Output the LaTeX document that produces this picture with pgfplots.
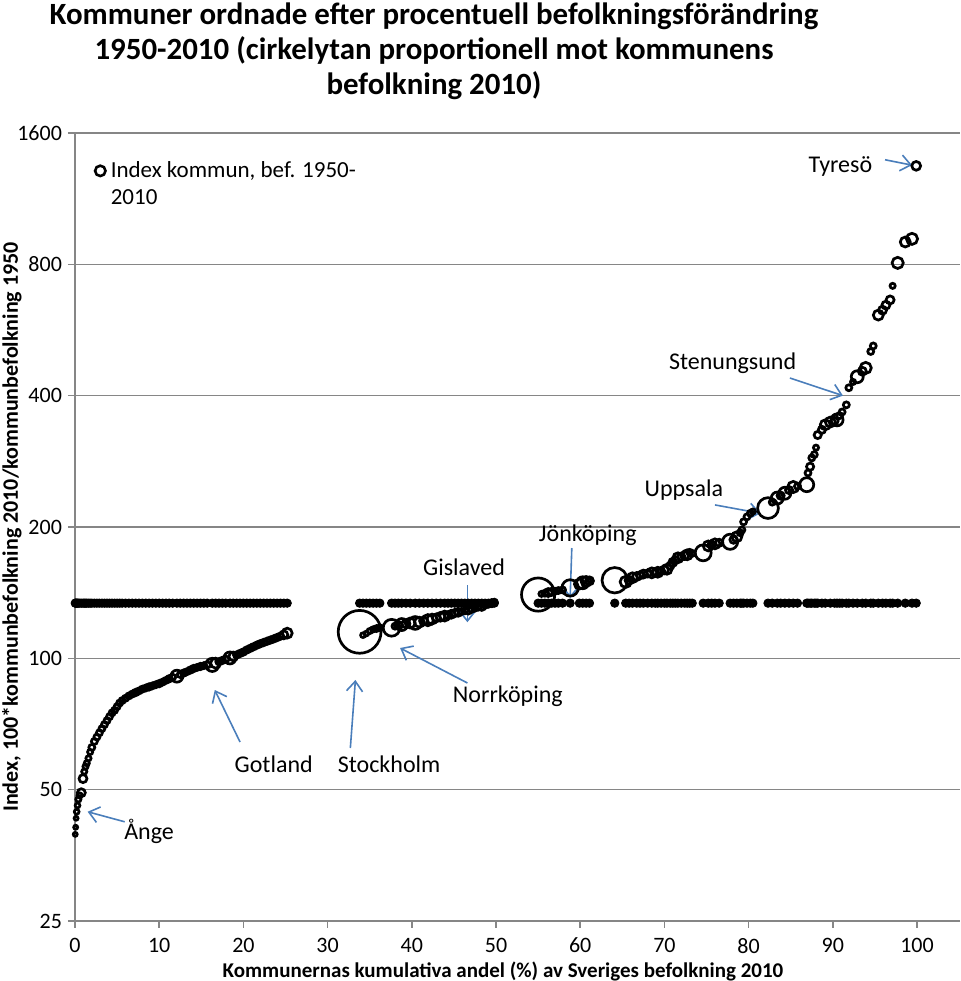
\documentclass[border=0pt]{standalone}
\usepackage{fontspec}
\setmainfont{Carlito}
\usepackage{pgfplots}
\usepackage{pgfplotstable}
\pgfplotsset{compat=1.18}
\usetikzlibrary{calc,arrows.meta}

\definecolor{axgray}{HTML}{868686}
\definecolor{arrblue}{HTML}{4A7EBB}

% x = kumulativ andel (%), y = index 2010/1950, r = cirkelradie (pt), s = rikets index
\pgfplotstableread{
x y r s
0.03 39.5 1.0 133.8
0.08 41.0 1.0 133.8
0.13 43.0 1.0 133.8
0.20 44.5 1.2 133.8
0.30 46.0 1.2 133.8
0.40 47.5 1.3 133.8
0.55 48.5 1.3 133.8
0.75 49.2 2.0 133.8
0.95 53.0 2.0 133.8
1.10 55.0 1.3 133.8
1.25 56.5 1.3 133.8
1.40 57.5 1.3 133.8
1.60 59.0 1.3 133.8
1.80 61.0 1.3 133.8
2.00 62.5 1.5 133.8
2.30 64.5 1.5 133.8
2.60 66.0 1.5 133.8
2.90 67.5 1.5 133.8
3.20 69.0 1.5 133.8
3.50 70.5 1.5 133.8
3.80 72.0 1.5 133.8
4.10 73.5 1.5 133.8
4.40 75.0 1.5 133.8
4.70 76.0 1.5 133.8
5.00 77.5 1.5 133.8
5.30 79.0 1.5 133.8
5.60 80.0 1.5 133.8
6.00 81.0 1.5 133.8
6.40 82.0 1.5 133.8
6.80 82.8 1.5 133.8
7.20 83.5 1.6 133.8
7.60 84.2 1.5 133.8
8.00 85.0 1.5 133.8
8.40 85.5 1.5 133.8
8.80 86.0 1.6 133.8
9.20 86.5 1.5 133.8
9.60 87.0 1.5 133.8
10.00 87.5 1.6 133.8
10.40 88.2 1.5 133.8
10.80 89.0 1.5 133.8
11.20 89.8 1.6 133.8
11.60 90.5 1.5 133.8
12.10 91.0 3.0 133.8
12.50 91.8 1.5 133.8
12.90 92.5 1.6 133.8
13.30 93.2 1.5 133.8
13.70 94.0 1.6 133.8
14.10 94.8 1.6 133.8
14.50 95.3 1.5 133.8
14.90 95.8 1.6 133.8
15.30 96.2 1.5 133.8
15.70 96.6 1.6 133.8
16.30 96.6 3.3 133.8
16.70 97.5 2.5 133.8
17.10 98.2 1.6 133.8
17.50 98.9 1.6 133.8
17.90 99.5 1.6 133.8
18.40 100.2 3.0 133.8
18.80 101.0 2.2 133.8
19.20 101.8 1.6 133.8
19.60 102.6 1.6 133.8
20.00 103.4 1.6 133.8
20.40 104.5 1.6 133.8
20.80 105.4 1.6 133.8
21.20 106.3 1.6 133.8
21.60 107.2 1.6 133.8
22.00 108.0 1.6 133.8
22.40 108.7 1.6 133.8
22.80 109.4 1.6 133.8
23.20 110.1 1.6 133.8
23.60 110.8 1.6 133.8
24.00 111.6 1.6 133.8
24.40 112.4 1.6 133.8
24.80 113.2 2.0 133.8
25.20 114.2 2.5 133.8
33.80 115.0 10.7 133.8
34.20 113.0 1.2 133.8
34.60 114.0 1.2 133.8
35.00 115.5 1.3 133.8
35.40 116.5 1.3 133.8
35.80 117.0 1.5 133.8
36.20 117.5 1.5 133.8
37.60 117.5 4.2 133.8
38.00 118.5 1.5 133.8
38.40 119.0 2.0 133.8
38.80 119.5 3.0 133.8
39.30 120.0 2.0 133.8
39.80 120.5 2.5 133.8
40.40 120.5 3.2 133.8
40.90 121.0 2.5 133.8
41.40 121.8 2.0 133.8
41.90 122.3 2.8 133.8
42.40 123.0 2.5 133.8
42.90 123.8 2.0 133.8
43.40 124.5 2.2 133.8
43.90 125.0 2.5 133.8
44.30 125.5 1.8 133.8
44.70 126.2 2.0 133.8
45.10 127.0 1.8 133.8
45.50 127.5 2.0 133.8
45.90 128.0 1.5 133.8
46.30 128.5 1.5 133.8
46.70 129.0 2.0 133.8
47.10 129.5 1.5 133.8
47.50 130.3 1.5 133.8
47.90 131.0 1.5 133.8
48.30 131.5 2.0 133.8
48.70 132.3 1.5 133.8
49.10 133.0 1.5 133.8
49.50 133.8 1.8 133.8
49.80 134.5 1.5 133.8
55.00 140.0 8.3 133.8
55.40 140.5 1.3 133.8
55.80 141.0 1.5 133.8
56.20 141.5 2.0 133.8
56.60 142.0 1.8 133.8
57.00 142.5 1.5 133.8
57.40 143.0 1.5 133.8
57.90 143.5 1.5 133.8
58.80 145.0 4.1 133.8
59.90 148.0 2.5 133.8
60.30 149.0 3.0 133.8
60.70 150.0 2.5 133.8
61.10 150.5 2.0 133.8
64.10 151.0 6.35 133.8
65.40 149.7 2.8 133.8
65.80 151.0 2.0 133.8
66.20 153.0 2.5 133.8
66.70 154.0 2.0 133.8
67.10 155.0 1.8 133.8
67.50 156.0 2.0 133.8
68.00 156.5 1.8 133.8
68.50 157.0 2.5 133.8
68.90 157.0 1.8 133.8
69.20 157.5 2.5 133.8
69.60 158.5 1.8 133.8
70.00 159.5 2.0 133.8
70.30 160.0 2.5 133.8
70.70 163.0 1.8 133.8
71.00 166.0 2.0 133.8
71.30 168.0 1.8 133.8
71.60 170.0 2.5 133.8
72.00 171.0 1.8 133.8
72.40 172.0 2.0 133.8
72.70 172.7 2.5 133.8
73.00 175.0 1.5 133.8
73.30 174.0 1.5 133.8
74.60 174.5 4.0 133.8
75.20 181.0 2.5 133.8
75.60 182.0 1.8 133.8
76.00 183.0 2.5 133.8
76.50 184.0 1.8 133.8
77.80 185.0 3.8 133.8
78.20 187.0 1.8 133.8
78.60 190.0 2.5 133.8
79.00 194.0 1.5 133.8
79.20 197.0 1.5 133.8
79.40 205.5 1.5 133.8
79.80 211.0 1.5 133.8
80.20 215.0 1.5 133.8
80.50 217.0 1.3 133.8
82.30 221.0 5.2 133.8
82.80 228.0 1.5 133.8
83.40 233.0 3.0 133.8
83.80 236.0 1.8 133.8
84.30 239.0 3.0 133.8
84.80 243.0 1.8 133.8
85.30 247.0 2.8 133.8
85.80 248.0 1.5 133.8
86.90 250.0 3.5 133.8
87.05 266.0 1.5 133.8
87.30 275.0 1.8 133.8
87.50 288.0 1.5 133.8
87.80 293.0 1.5 133.8
88.00 304.0 1.3 133.8
88.20 325.0 1.8 133.8
88.70 334.0 1.8 133.8
89.10 343.0 2.5 133.8
89.70 348.0 2.5 133.8
90.20 350.0 1.8 133.8
90.50 352.0 3.0 133.8
90.80 360.0 1.5 133.8
91.10 367.0 1.5 133.8
91.60 381.0 1.5 133.8
91.90 417.0 1.5 133.8
92.40 430.0 1.3 133.8
92.90 442.0 3.0 133.8
93.50 455.0 2.0 133.8
93.90 463.0 2.8 133.8
94.50 505.0 1.5 133.8
94.80 520.0 1.5 133.8
95.40 612.0 2.5 133.8
95.90 628.0 2.0 133.8
96.30 645.0 2.0 133.8
96.80 663.0 2.0 133.8
97.10 714.0 1.3 133.8
97.70 806.0 2.8 133.8
98.60 900.0 2.5 133.8
99.40 915.0 2.8 133.8
99.90 1345.0 2.2 133.8
}\kommuner

\begin{document}
\begin{tikzpicture}[
  arr/.style={draw=arrblue, line width=0.8pt, -{Straight Barb[length=5pt,width=8pt]}},
  ann/.style={font=\fontsize{12}{14}\selectfont, inner sep=0pt}]
\begin{axis}[
  name=ax,
  scale only axis, width=442.5pt, height=394pt,
  xmin=0, xmax=105.1,
  ymode=log, ymin=25, ymax=1600,
  xtick={0,10,20,30,40,50,60,70,80,90,100},
  xticklabels={0,10,20,30,40,50,60,70,80,90,100},
  ytick={25,50,100,200,400,800,1600},
  yticklabels={25,50,100,200,400,800,1600},
  yminorticks=false,
  axis lines*=left,
  axis line style={axgray, line width=0.8pt, -},
  ymajorgrids,
  major grid style={axgray, line width=0.8pt},
  tick align=outside,
  major tick length=3.5pt,
  tick style={axgray, line width=0.8pt},
  tick label style={font=\fontsize{11}{13}\selectfont, black},
  yticklabel style={xshift=0.5pt},
  xticklabel style={yshift=-1.5pt},
  every axis x label/.style={at={(axis description cs:0.4836,-0.0635)}, anchor=center},
  every axis y label/.style={at={(axis description cs:-0.0712,0.5)}, rotate=90, anchor=center},
  xlabel={Kommunernas kumulativa andel (\%) av Sveriges befolkning 2010},
  ylabel={Index, 100*kommunbefolkning 2010/kommunbefolkning 1950},
  x label style={font=\bfseries\fontsize{10.5}{12.5}\selectfont},
  y label style={font=\bfseries\fontsize{11}{13}\selectfont},
  legend style={at={(axis description cs:0.014,0.975)}, anchor=north west,
    draw=none, fill=none, cells={align=left}, font=\fontsize{11.5}{13.5}\selectfont},
  legend cell align=left,
]
\addlegendimage{legend image code/.code={
  \draw[black, line width=1.3pt] (0.3cm,6.6pt) circle (2.6pt);}}
\addlegendentry{Index kommun, bef. 1950-\\2010}

\addplot[only marks, mark=*, mark size=2.1pt, black, forget plot]
  table[x=x, y=s] {\kommuner};

\addplot[scatter, only marks, mark=o, line width=1.35pt, forget plot,
  point meta=explicit,
  scatter/use mapped color={draw=black},
  visualization depends on={\thisrow{r}\as\rad},
  scatter/@pre marker code/.append style={/tikz/mark size=\rad}]
  table[x=x, y=y, meta=r] {\kommuner};

\node[ann] at (axis cs:90.9,1338) {Tyresö};
\draw[arr] (axis cs:96.2,1389) -- (axis cs:99.4,1350);
\node[ann] at (axis cs:78.1,475) {Stenungsund};
\draw[arr] (axis cs:84.9,439) -- (axis cs:91.2,400);
\node[ann] at (axis cs:72.3,243) {Uppsala};
\draw[arr] (axis cs:76.0,224.7) -- (axis cs:81.4,215);
\node[ann] at (axis cs:60.9,192) {Jönköping};
\draw[arr] (axis cs:59.0,179) -- (axis cs:58.8,137.5);
\node[ann] at (axis cs:46.2,162) {Gislaved};
\draw[arr] (axis cs:46.6,147) -- (axis cs:46.6,121);
\node[ann] at (axis cs:51.4,82) {Norrköping};
\draw[arr] (axis cs:46.6,87.8) -- (axis cs:38.6,105.6);
\node[ann] at (axis cs:37.3,57.3) {Stockholm};
\draw[arr] (axis cs:32.7,62.3) -- (axis cs:33.3,89.2);
\node[ann] at (axis cs:23.6,57.3) {Gotland};
\draw[arr] (axis cs:19.6,64.3) -- (axis cs:16.6,84.6);
\node[ann] at (axis cs:8.8,40.2) {Ånge};
\draw[arr] (axis cs:5.9,42.2) -- (axis cs:1.5,44.5);
\end{axis}

\node[anchor=north, inner sep=0pt, align=center,
  font=\bfseries\fontsize{15.45}{17.5}\selectfont]
  at ($(ax.north west)+(179.5pt,65.5pt)$)
  {Kommuner ordnade efter procentuell befolkningsförändring\\
   1950-2010 (cirkelytan proportionell mot kommunens\\
   befolkning 2010)};

\pgfresetboundingbox
\path ($(ax.south west)+(-37.5pt,-30pt)$) rectangle ($(ax.north east)+(0pt,66.5pt)$);
\end{tikzpicture}
\end{document}
